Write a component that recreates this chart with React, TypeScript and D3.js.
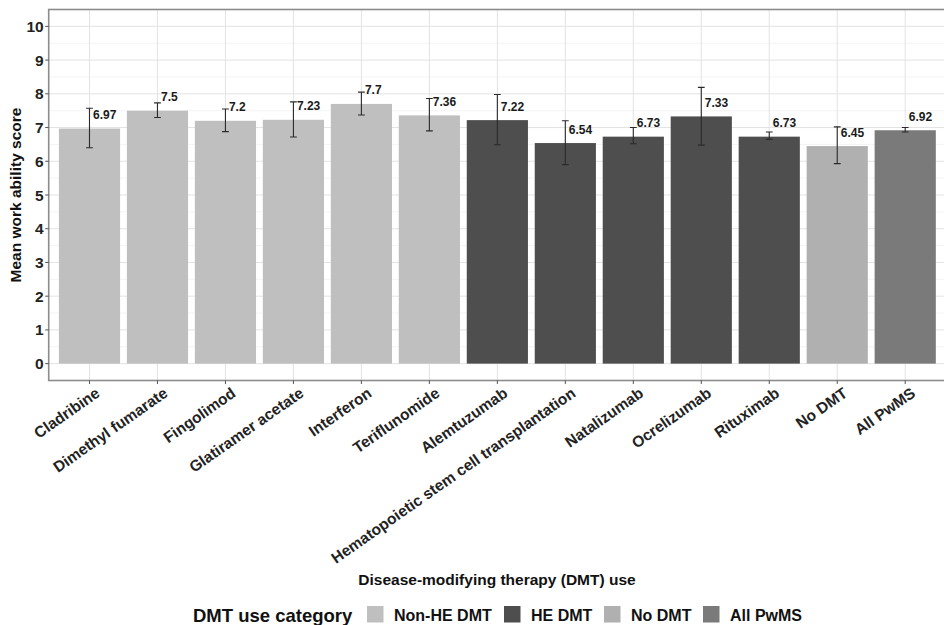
import React from "react";
import * as d3 from "d3";

// DMT groups
const categories = [
  "Cladribine",
  "Dimethyl fumarate",
  "Fingolimod",
  "Glatiramer acetate",
  "Interferon",
  "Teriflunomide",
  "Alemtuzumab",
  "Hematopoietic stem cell transplantation",
  "Natalizumab",
  "Ocrelizumab",
  "Rituximab",
  "No DMT",
  "All PwMS",
];
const groups = [
  "Non-HE DMT", "Non-HE DMT", "Non-HE DMT", "Non-HE DMT", "Non-HE DMT", "Non-HE DMT",
  "HE DMT", "HE DMT", "HE DMT", "HE DMT", "HE DMT",
  "No DMT",
  "All PwMS",
];
const means = [6.97, 7.5, 7.2, 7.23, 7.7, 7.36, 7.22, 6.54, 6.73, 7.33, 6.73, 6.45, 6.92];
const lower = [6.4, 7.3, 6.88, 6.72, 7.37, 6.9, 6.49, 5.9, 6.52, 6.48, 6.65, 5.93, 6.87];
const upper = [7.57, 7.73, 7.55, 7.76, 8.05, 7.86, 7.98, 7.2, 7.0, 8.19, 6.87, 7.02, 7.0];
const legendGroups = ["Non-HE DMT", "HE DMT", "No DMT", "All PwMS"];
const legendColors = ["#bfbfbf", "#4e4e4e", "#b0b0b0", "#7a7a7a"];
const yTicks = [0, 1, 2, 3, 4, 5, 6, 7, 8, 9, 10];

const font = "'Liberation Sans', Arial, sans-serif";

const App = () => {
  const width = 944;
  const height = 625;
  const panel = { left: 48.7, right: 946, top: 9.5, bottom: 380.5 };

  const x = d3
    .scaleBand()
    .domain(categories)
    .range([panel.left, panel.right])
    .paddingInner(0.1)
    .paddingOuter(0.15);
  const y = d3.scaleLinear().domain([-0.5, 10.5]).range([panel.bottom, panel.top]);
  const color = d3.scaleOrdinal().domain(legendGroups).range(legendColors);
  const cx = (c) => x(c) + x.bandwidth() / 2;
  const cap = x.step() * 0.05;
  const minor = d3.range(-0.5, 10.51, 1);

  // legend layout
  const legendX = [367, 504, 604, 703];

  return (
    <svg
      width={width}
      height={height}
      style={{ position: "absolute", left: 0, top: 0, background: "#fff" }}
      fontFamily={font}
    >
      <defs>
        <clipPath id="panel">
          <rect x={panel.left} y={panel.top} width={panel.right - panel.left} height={panel.bottom - panel.top} />
        </clipPath>
      </defs>
      <g clipPath="url(#panel)">
        {/* grid */}
        {minor.map((t) => (
          <line key={"mn" + t} x1={panel.left} x2={panel.right} y1={y(t)} y2={y(t)} stroke="#f1f1f1" strokeWidth={0.8} />
        ))}
        {yTicks.map((t) => (
          <line key={"mj" + t} x1={panel.left} x2={panel.right} y1={y(t)} y2={y(t)} stroke="#e3e3e3" strokeWidth={1} />
        ))}
        {categories.map((c) => (
          <line key={"vg" + c} x1={cx(c)} x2={cx(c)} y1={panel.top} y2={panel.bottom} stroke="#e3e3e3" strokeWidth={1} />
        ))}
        {/* bars */}
        {categories.map((c, i) => (
          <rect
            key={"b" + c}
            x={x(c)}
            y={y(means[i])}
            width={x.bandwidth()}
            height={y(0) - y(means[i])}
            fill={color(groups[i])}
          />
        ))}
        {/* error bars */}
        {categories.map((c, i) => (
          <g key={"e" + c} stroke="#2a2a2a" strokeWidth={1.1}>
            <line x1={cx(c)} x2={cx(c)} y1={y(lower[i])} y2={y(upper[i])} />
            <line x1={cx(c) - cap} x2={cx(c) + cap} y1={y(lower[i])} y2={y(lower[i])} />
            <line x1={cx(c) - cap} x2={cx(c) + cap} y1={y(upper[i])} y2={y(upper[i])} />
          </g>
        ))}
        {/* value labels */}
        {categories.map((c, i) => (
          <text
            key={"l" + c}
            x={cx(c) + 3.5}
            y={y(means[i]) - 9.5}
            fontSize={12}
            fontWeight="bold"
            fill="#1a1a1a"
          >
            {means[i]}
          </text>
        ))}
      </g>
      {/* panel border */}
      <rect
        x={panel.left}
        y={panel.top}
        width={panel.right - panel.left}
        height={panel.bottom - panel.top}
        fill="none"
        stroke="#8c8c8c"
        strokeWidth={1.6}
      />
      {/* y axis */}
      {yTicks.map((t) => (
        <g key={"yt" + t}>
          <line x1={panel.left - 3.5} x2={panel.left} y1={y(t)} y2={y(t)} stroke="#555" strokeWidth={1} />
          <text x={panel.left - 5} y={y(t)} dy="0.36em" textAnchor="end" fontSize={15.5} fontWeight="bold" fill="#222">
            {t}
          </text>
        </g>
      ))}
      <text
        transform={`translate(21,${(panel.top + panel.bottom) / 2}) rotate(-90)`}
        textAnchor="middle"
        fontSize={15.5}
        fontWeight="bold"
        fill="#111"
      >
        Mean work ability score
      </text>
      {/* x axis */}
      {categories.map((c) => (
        <g key={"xt" + c}>
          <line x1={cx(c)} x2={cx(c)} y1={panel.bottom} y2={panel.bottom + 3.5} stroke="#555" strokeWidth={1} />
          <text
            transform={`translate(${cx(c) + 5},${panel.bottom + 6}) rotate(-35)`}
            textAnchor="end"
            dy="0.71em"
            fontSize={15.5}
            fontWeight="bold"
            fill="#222"
          >
            {c}
          </text>
        </g>
      ))}
      <text x={497} y={585} textAnchor="middle" fontSize={15.5} fontWeight="bold" fill="#111">
        Disease-modifying therapy (DMT) use
      </text>
      {/* legend */}
      <text x={193} y={621.5} fontSize={18.5} fontWeight="bold" fill="#111">
        DMT use category
      </text>
      {legendGroups.map((g, i) => (
        <g key={"lg" + g}>
          <rect x={legendX[i]} y={606} width={16.5} height={16.5} fill={color(g)} />
          <text x={legendX[i] + 27} y={620.5} fontSize={16} fontWeight="bold" fill="#111">
            {g}
          </text>
        </g>
      ))}
    </svg>
  );
};

export default App;
